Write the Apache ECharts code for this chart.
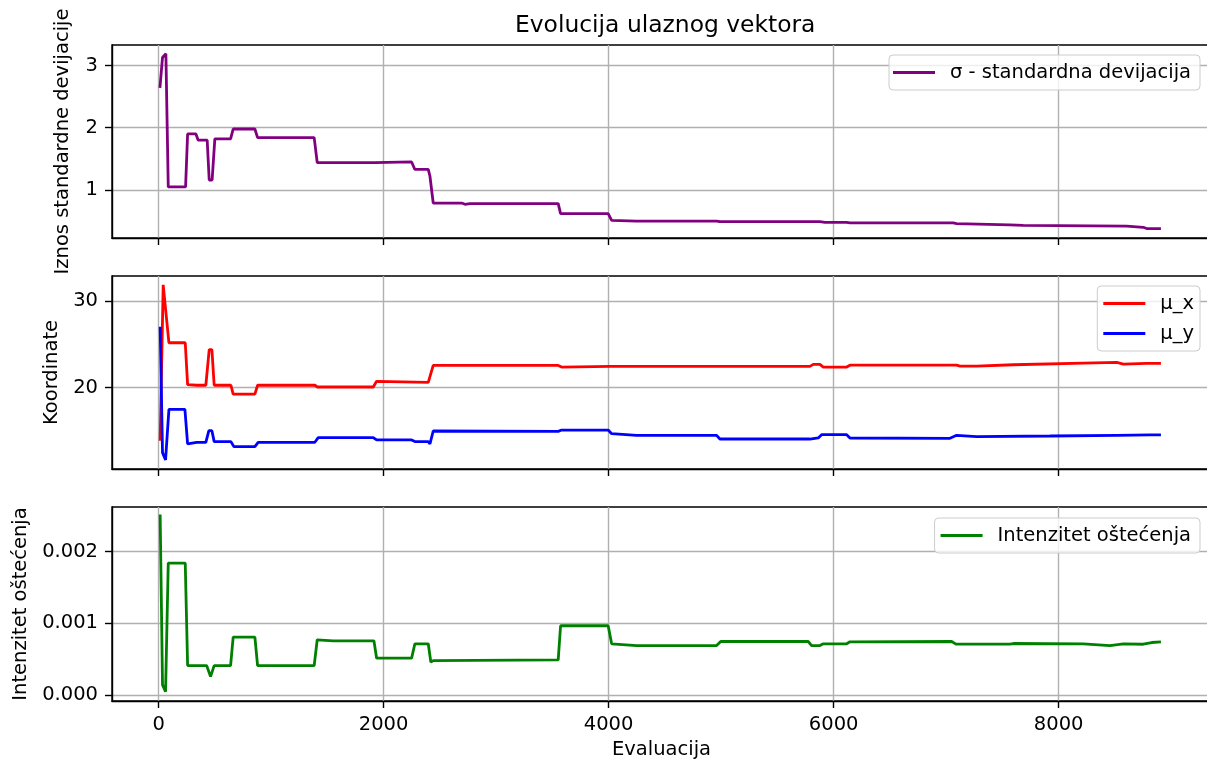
<!DOCTYPE html>
<html><head><meta charset="utf-8">
<script src="https://cdn.jsdelivr.net/npm/echarts@6/dist/echarts.min.js"></script>
<style>html,body{margin:0;padding:0;background:#fff}#c{width:1207px;height:763px}</style>
</head><body><div id="c"></div>
<script>
// ---- data ----
const xTicks = [0, 2000, 4000, 6000, 8000];
const sigmaTicks = [1, 2, 3];
const coordTicks = [20, 30];
const damageTicks = [0, 0.001, 0.002];

const sigmaX = [12, 35, 65, 86, 240, 258, 332, 352, 432, 450, 476, 500, 640, 663, 856, 880, 1383, 1410, 1923, 1938, 2249, 2278, 2397, 2412, 2441, 2693, 2723, 2767, 3552, 3573, 3996, 4027, 4249, 4960, 4989, 5878, 5922, 6115, 6145, 7063, 7093, 7567, 7685, 8604, 8752, 8782, 8909];
const sigmaY = [2.64, 3.13, 3.19, 1.05, 1.05, 1.90, 1.90, 1.80, 1.80, 1.16, 1.16, 1.82, 1.82, 1.98, 1.98, 1.84, 1.84, 1.44, 1.44, 1.45, 1.45, 1.33, 1.33, 1.22, 0.79, 0.79, 0.77, 0.78, 0.78, 0.62, 0.62, 0.51, 0.50, 0.50, 0.49, 0.49, 0.48, 0.48, 0.47, 0.47, 0.46, 0.44, 0.43, 0.42, 0.40, 0.38, 0.38];

const muxX = [14, 41, 92, 237, 258, 338, 420, 450, 474, 494, 643, 663, 856, 880, 1389, 1410, 1908, 1938, 2397, 2441, 3552, 3582, 4012, 5789, 5819, 5878, 5908, 6116, 6145, 7093, 7123, 7271, 7597, 8219, 8516, 8575, 8782, 8909];
const muxY = [13.84, 31.92, 25.2, 25.2, 20.35, 20.27, 20.27, 24.4, 24.4, 20.27, 20.27, 19.23, 19.23, 20.27, 20.27, 20.07, 20.07, 20.73, 20.61, 22.57, 22.57, 22.38, 22.46, 22.46, 22.69, 22.69, 22.38, 22.38, 22.6, 22.6, 22.5, 22.5, 22.65, 22.84, 22.92, 22.72, 22.8, 22.8];

const muyX = [14, 35, 62, 92, 234, 258, 338, 420, 447, 474, 494, 643, 669, 856, 885, 1389, 1419, 1908, 1938, 2249, 2278, 2397, 2412, 2441, 3552, 3582, 3996, 4027, 4249, 4960, 4989, 5789, 5863, 5893, 6116, 6145, 7034, 7093, 7271, 7923, 8516, 8812, 8909];
const muyY = [27.07, 12.45, 11.6, 17.46, 17.46, 13.46, 13.65, 13.65, 15.0, 15.0, 13.73, 13.73, 13.15, 13.15, 13.65, 13.65, 14.19, 14.19, 13.92, 13.92, 13.73, 13.73, 13.46, 14.96, 14.92, 15.07, 15.07, 14.65, 14.46, 14.46, 14.03, 14.03, 14.15, 14.53, 14.53, 14.15, 14.11, 14.46, 14.30, 14.38, 14.46, 14.5, 14.5];

const dmgX = [14, 35, 62, 86, 237, 258, 427, 462, 494, 640, 663, 856, 880, 1383, 1410, 1552, 1914, 1938, 2249, 2278, 2397, 2420, 2441, 3552, 3573, 3996, 4027, 4249, 4960, 4996, 5774, 5804, 5878, 5908, 6116, 6145, 7049, 7087, 7567, 7597, 8219, 8456, 8575, 8752, 8827, 8909];
const dmgY = [0.002516, 0.000144, 0.00005, 0.00184, 0.00184, 0.000413, 0.000413, 0.00026, 0.000413, 0.000413, 0.00081, 0.00081, 0.000413, 0.000413, 0.000772, 0.000758, 0.000758, 0.000516, 0.000516, 0.000716, 0.000716, 0.00046, 0.000483, 0.000493, 0.000967, 0.000967, 0.000716, 0.000692, 0.000692, 0.000748, 0.000748, 0.000692, 0.000692, 0.000716, 0.000716, 0.000744, 0.000748, 0.000712, 0.000712, 0.00072, 0.000716, 0.000692, 0.000716, 0.00071, 0.000734, 0.000744];

// ---- chart ----
const FONT = 'DejaVu Sans';
const FS = 19.5;
const zip = (a, b) => a.map((v, i) => [v, b[i]]);

const grids = [
  { left: 112, top: 45, width: 1099, height: 193 },
  { left: 112, top: 276, width: 1099, height: 193 },
  { left: 112, top: 507, width: 1099, height: 194 }
].map(g => Object.assign({ show: true, borderColor: '#000', borderWidth: 1.4, backgroundColor: 'transparent', outerBoundsMode: 'none', containLabel: false }, g));

function xAxis(i, labels) {
  return {
    type: 'value', gridIndex: i, min: -414, max: 9354,
    axisLine: { show: true, onZero: false, lineStyle: { color: '#000', width: 1.4 } },
    axisTick: { show: true, inside: false, length: 7, customValues: xTicks, lineStyle: { color: '#000', width: 1.4 } },
    axisLabel: { show: labels, customValues: xTicks, margin: 14, color: '#000', fontFamily: FONT, fontSize: FS, formatter: v => String(v) },
    splitLine: { show: true, lineStyle: { color: '#b0b0b0', width: 1.4 } },
    name: labels ? 'Evaluacija' : '', nameLocation: 'middle', nameGap: 39,
    nameTextStyle: { color: '#000', fontFamily: FONT, fontSize: FS }
  };
}
function yAxis(i, min, max, ticks, name, gap, fmt) {
  return {
    type: 'value', gridIndex: i, min: min, max: max,
    axisLine: { show: true, onZero: false, lineStyle: { color: '#000', width: 1.4 } },
    axisTick: { show: true, inside: false, length: 7, customValues: ticks, lineStyle: { color: '#000', width: 1.4 } },
    axisLabel: { show: true, customValues: ticks, margin: 14, color: '#000', fontFamily: FONT, fontSize: FS, formatter: fmt || (v => String(v)) },
    splitLine: { show: true, lineStyle: { color: '#b0b0b0', width: 1.4 } },
    name: name, nameLocation: 'middle', nameGap: gap, nameRotate: 90,
    nameTextStyle: { color: '#000', fontFamily: FONT, fontSize: FS }
  };
}
function legend(names, top, pad) {
  return {
    data: names, right: 7, top: top, orient: 'vertical',
    icon: 'rect', itemWidth: 42, itemHeight: 2.8, itemGap: 7,
    padding: pad, backgroundColor: 'rgba(255,255,255,0.8)',
    borderColor: '#cccccc', borderWidth: 1, borderRadius: 4,
    textStyle: { color: '#000', fontFamily: FONT, fontSize: FS, lineHeight: 23, padding: [0, 0, 0, 10] },
    selectedMode: false
  };
}
function line(name, data, color, idx) {
  return {
    name: name, type: 'line', data: data, xAxisIndex: idx, yAxisIndex: idx,
    showSymbol: false, symbol: 'none', color: color,
    lineStyle: { color: color, width: 2.8 }, clip: true, animation: false
  };
}

const chart = echarts.init(document.getElementById('c'), null, { renderer: 'canvas' });
chart.setOption({
  animation: false,
  backgroundColor: '#fff',
  textStyle: { fontFamily: FONT },
  title: { text: 'Evolucija ulaznog vektora', left: 510, top: 9, textStyle: { color: '#000', fontFamily: FONT, fontSize: 23.4, fontWeight: 'normal' } },
  grid: grids,
  xAxis: [xAxis(0, false), xAxis(1, false), xAxis(2, true)],
  yAxis: [
    yAxis(0, 0.228, 3.33, sigmaTicks, 'Iznos standardne devijacije', 39),
    yAxis(1, 10.55, 32.95, coordTicks, 'Koordinate', 47),
    yAxis(2, -0.00008, 0.00262, damageTicks, 'Intenzitet oštećenja', 80, v => v.toFixed(3))
  ],
  legend: [
    legend(['σ - standardna devijacija'], 55, [6, 9, 6, 4]),
    legend(['μ_x', 'μ_y'], 286, [6, 6, 6, 6]),
    legend(['Intenzitet oštećenja'], 518, [6, 9, 6, 6])
  ],
  series: [
    line('σ - standardna devijacija', zip(sigmaX, sigmaY), '#800080', 0),
    line('μ_x', zip(muxX, muxY), '#ff0000', 1),
    line('μ_y', zip(muyX, muyY), '#0000ff', 1),
    line('Intenzitet oštećenja', zip(dmgX, dmgY), '#008000', 2)
  ]
});
</script>
</body></html>
